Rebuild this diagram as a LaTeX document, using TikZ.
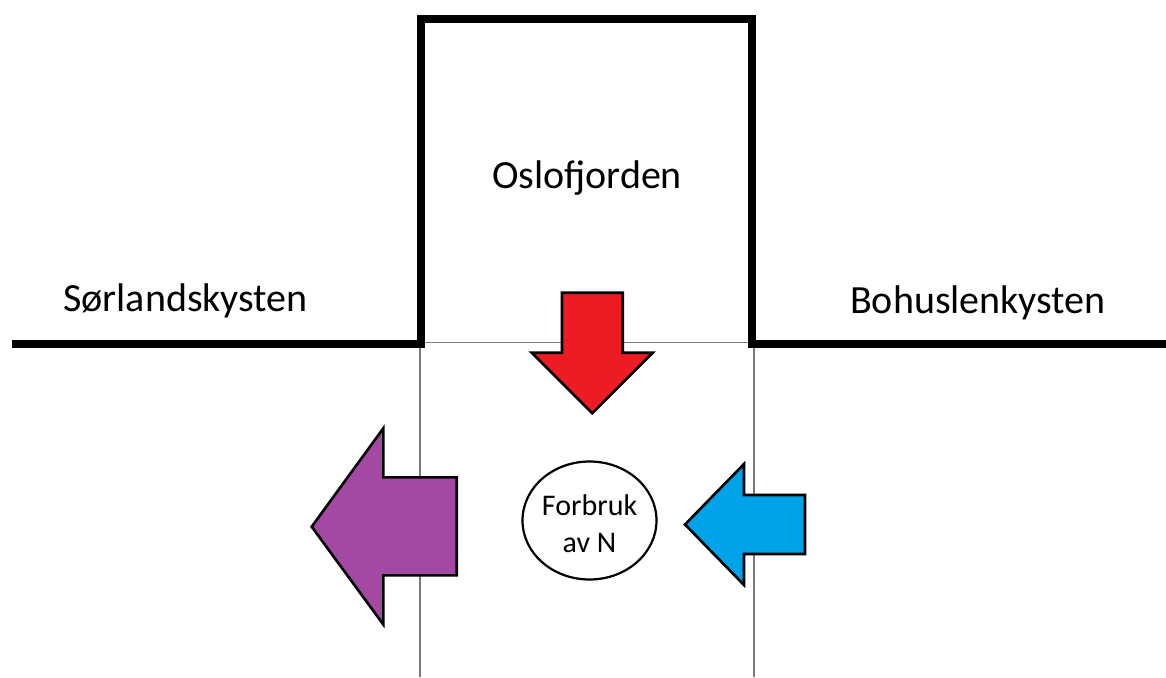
\documentclass[tikz,border=0pt]{standalone}
\usepackage{fontspec}
\setmainfont{Carlito}
\usetikzlibrary{shapes.geometric}
\definecolor{arrred}{HTML}{ED1C24}
\definecolor{arrpurple}{HTML}{A349A4}
\definecolor{arrblue}{HTML}{00A2E8}
\definecolor{thingray}{HTML}{7A7A7A}
\tikzset{
  coast/.style={line width=7.5pt, line join=miter, black},
  guide/.style={line width=1.2pt, thingray},
  fatarrow/.style={draw=black, line width=2.6pt, line join=miter},
  bigtext/.style={font=\fontsize{40}{48}\selectfont, anchor=base, inner sep=0pt},
}
\begin{document}
\begin{tikzpicture}[x=1pt,y=-1pt]
\useasboundingbox (0,0) rectangle (1166,677);
\fill[white] (0,0) rectangle (1166,677);
% thin guide lines
\coordinate (gl) at (420,342.5);
\coordinate (gr) at (754,342.5);
\coordinate (glb) at (420,677);
\coordinate (grb) at (754,677);
\draw[guide] (gl) -- (gr);
\draw[guide] (gl) -- (glb);
\draw[guide] (gr) -- (grb);
% coast line
\coordinate (c1) at (11.5,344);
\coordinate (c2) at (421,344);
\coordinate (c3) at (421,19);
\coordinate (c4) at (752,19);
\coordinate (c5) at (752,344);
\coordinate (c6) at (1170,344);
\draw[coast] (c1) -- (c2) -- (c3) -- (c4) -- (c5) -- (c6);
% labels
\node[bigtext] (oslo) at (587,188) {Oslofjorden};
\node[bigtext] (sor) at (185.5,311.5) {Sørlandskysten};
\node[bigtext] (boh) at (978,313) {Bohuslenkysten};
% red arrow (down)
\draw[fatarrow, fill=arrred] (562,292.7) -- (622.7,292.7) -- (622.7,352.7) -- (652.7,352.7)
  -- (592.3,413.3) -- (531.7,352.7) -- (562,352.7) -- cycle;
% purple arrow (left)
\draw[fatarrow, fill=arrpurple] (456.7,477.3) -- (383.3,477.3) -- (383.3,428.3) -- (311.7,526.7)
  -- (383.3,624.5) -- (383.3,575.3) -- (456.7,575.3) -- cycle;
% blue arrow (left)
\draw[fatarrow, fill=arrblue] (805,495) -- (744,495) -- (744,464) -- (685,524.5)
  -- (744,585) -- (744,554) -- (805,554) -- cycle;
% consumption ellipse
\node[ellipse, draw=black, line width=2.2pt, fill=white, minimum width=134pt, minimum height=118pt,
  inner sep=0pt] (forbruk) at (589.5,520.5) {};
\node[inner sep=0pt, align=center, font=\fontsize{30}{37}\selectfont, yshift=-3pt]
  (forbruktext) at (forbruk.center) {Forbruk\\av N};
\end{tikzpicture}
\end{document}
